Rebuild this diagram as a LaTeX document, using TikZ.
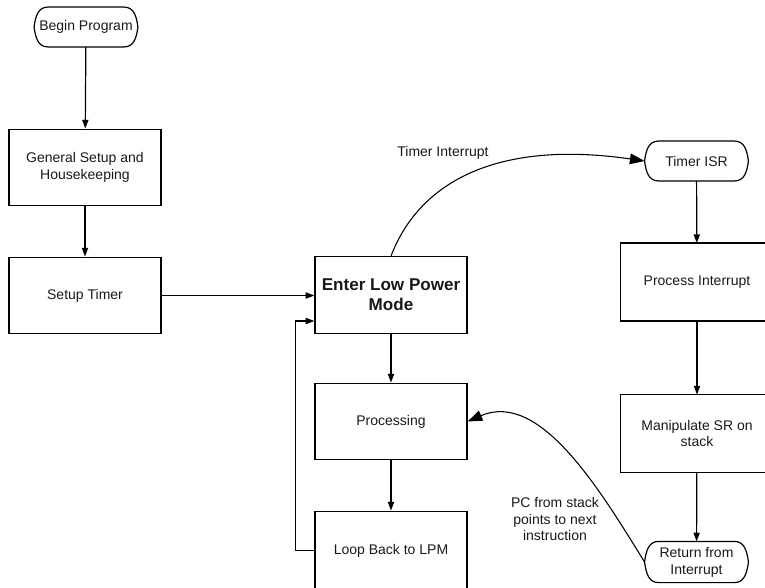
\documentclass[tikz,border=0pt]{standalone}
\usepackage{fontspec}
\setmainfont{Liberation Sans}
\usetikzlibrary{arrows.meta,calc}

\begin{document}
\begin{tikzpicture}[
  x=0.75pt, y=-0.75pt,
  line width=0.9pt,
  every node/.style={font=\fontsize{10.5}{12.6}\selectfont, text=black!90},
  procbox/.style={draw, rectangle, minimum width=114pt, minimum height=57.5pt, inner sep=2pt, align=center},
  edgebox/.style={procbox, draw=none},
  term/.style={rectangle, minimum width=77pt, minimum height=29pt, inner sep=1pt, align=center},
  flow/.style={draw, -{Triangle[length=6.5pt,width=4.6pt]}},
  jump/.style={draw, line width=0.8pt, -{Triangle[length=11pt,width=8pt]}},
  note/.style={align=center}
]
\useasboundingbox (0,0) rectangle (765,587);
\clip (0,0) rectangle (765,587);

% main program column
\node[term] (begin) at (86,27) {Begin Program};
\node[procbox] (gen) at (85,167.5) {General Setup and\\Housekeeping};
\node[procbox] (setup) at (85,295.5) {Setup Timer};

% low power loop column
\node[procbox, font=\bfseries\fontsize{12.8}{15}\selectfont] (enter) at (391,295) {Enter Low Power\\Mode};
\node[procbox] (proc) at (391,421.5) {Processing};
\node[procbox, minimum height=59pt] (loop) at (391,550.5) {Loop Back to LPM};

% interrupt service routine column (boxes run off the right edge)
\node[term] (isr) at (696.5,161) {Timer ISR};
\node[edgebox] (pint) at (697,282) {Process Interrupt};
\node[edgebox] (msr) at (697,433.5) {Manipulate SR on\\stack};
\node[term, minimum height=30pt] (reti) at (696.5,562) {Return from\\Interrupt};
\foreach \n in {pint,msr}
  \draw (\n.north west) rectangle ($(\n.south east)+(30,0)$);

% terminator outlines: flat top and bottom, rounded ends with a slight point
\foreach \n in {begin,isr,reti} {
  \draw ($(\n.north west)+(14,0)$) -- ($(\n.north east)+(-14,0)$)
    .. controls +(10,0) and +(-1.5,-11) .. (\n.east)
    .. controls +(-1.5,11) and +(10,0) .. ($(\n.south east)+(-14,0)$)
    -- ($(\n.south west)+(14,0)$)
    .. controls +(-10,0) and +(1.5,11) .. (\n.west)
    .. controls +(1.5,-11) and +(-10,0) .. cycle;
}

% straight flow
\draw[flow] (begin) -- (gen);
\draw[flow] (gen) -- (setup);
\draw[flow] (setup.east) -- (setup.east -| enter.west);
\draw[flow] (enter) -- (proc);
\draw[flow] (proc) -- (loop);
\draw[flow] (loop.west) -- ++(-19,0) |- ($(enter.west)+(0,26)$);
\draw[flow] (isr) -- (pint);
\draw[flow] (pint) -- (msr);
\draw[flow] (msr) -- (reti);

% interrupt entry and return
\draw[jump] (enter.north) .. controls (420,180) and (500,140) .. (isr.west);
\draw[jump] (reti.west) .. controls (600,490) and (540,390) .. (proc.east);

\node[note] (lbl1) at (443,153) {Timer Interrupt};
\node[note] (lbl2) at (555,519) {PC from stack\\points to next\\instruction};
\end{tikzpicture}
\end{document}
